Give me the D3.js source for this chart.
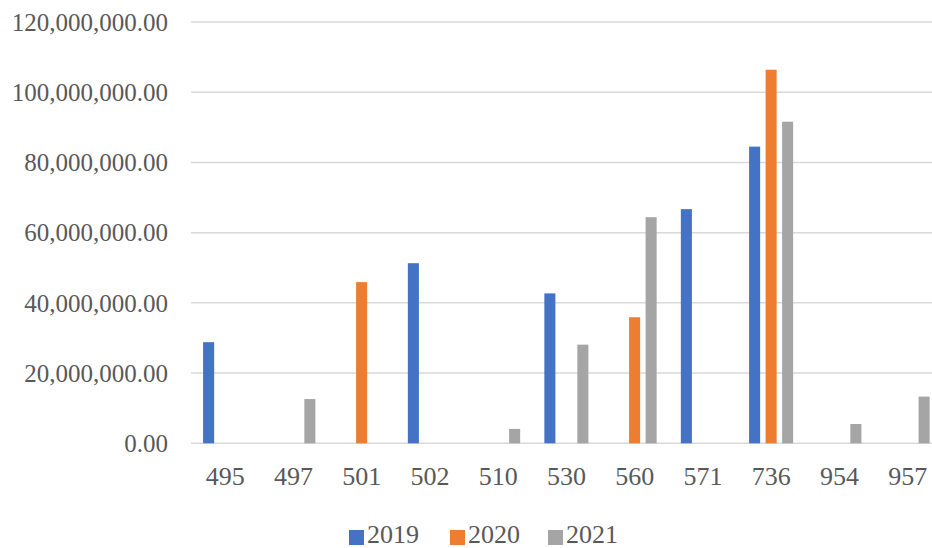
<!DOCTYPE html>
<html>
<head>
<meta charset="utf-8">
<script src="https://cdn.jsdelivr.net/npm/d3@7"></script>
<style>
  body { margin: 0; background: #fff; }
  svg { display: block; font-family: "Liberation Serif", "DejaVu Serif", serif; }
</style>
</head>
<body>
<svg></svg>
<script>
var WIDTH = 932;
var HEIGHT = 548;

// data
var categories = ["495", "497", "501", "502", "510", "530", "560", "571", "736", "954", "957"];
var years = ["2019", "2020", "2021"];
var values2019 = [28.8e6, 0, 0, 51.3e6, 0, 42.7e6, 0, 66.7e6, 84.5e6, 0, 0];
var values2020 = [0, 0, 45.9e6, 0, 0, 0, 35.9e6, 0, 106.4e6, 0, 0];
var values2021 = [0, 12.6e6, 0, 0, 4.1e6, 28.1e6, 64.4e6, 0, 91.6e6, 5.5e6, 13.3e6];
var yTicks = [0, 20e6, 40e6, 60e6, 80e6, 100e6, 120e6];
var colors = ["#4472C4", "#ED7D31", "#A5A5A5"];

var series = [values2019, values2020, values2021];

var svg = d3.select("svg")
    .attr("width", WIDTH)
    .attr("height", HEIGHT);

var left = 191, bandW = 68.25;
var x0 = d3.scaleBand()
    .domain(categories)
    .range([left, left + bandW * categories.length])
    .paddingInner(0)
    .paddingOuter(0);

var step = 16.5;
var x1 = d3.scaleBand()
    .domain(years)
    .range([bandW / 2 - 1.5 * step, bandW / 2 + 1.5 * step])
    .paddingInner(0.33)
    .paddingOuter(0.165);

var y = d3.scaleLinear()
    .domain([0, 120e6])
    .range([443.3, 22]);

var fmt = d3.format(",.2f");

// gridlines
svg.append("g")
    .selectAll("line")
    .data(yTicks)
    .enter()
    .append("line")
    .attr("x1", x0.range()[0])
    .attr("x2", x0.range()[1])
    .attr("y1", function(d) { return y(d); })
    .attr("y2", function(d) { return y(d); })
    .attr("stroke", "#d9d9d9")
    .attr("stroke-width", 1.5);

// y tick labels
svg.append("g")
    .selectAll("text")
    .data(yTicks)
    .enter()
    .append("text")
    .attr("x", 168)
    .attr("y", function(d) { return y(d); })
    .attr("dy", "0.35em")
    .attr("text-anchor", "end")
    .attr("font-size", 25)
    .attr("fill", "#595959")
    .text(function(d) { return fmt(d); });

// bars
var groups = svg.append("g")
    .selectAll("g")
    .data(categories)
    .enter()
    .append("g")
    .attr("transform", function(d) { return "translate(" + x0(d) + ",0)"; });

groups.selectAll("rect")
    .data(function(d, i) {
        return years.map(function(yr, j) { return {year: yr, value: series[j][i], color: colors[j]}; });
    })
    .enter()
    .filter(function(d) { return d.value > 0; })
    .append("rect")
    .attr("x", function(d) { return x1(d.year); })
    .attr("width", x1.bandwidth())
    .attr("y", function(d) { return y(d.value); })
    .attr("height", function(d) { return y(0) - y(d.value); })
    .attr("fill", function(d) { return d.color; });

// x labels
svg.append("g")
    .selectAll("text")
    .data(categories)
    .enter()
    .append("text")
    .attr("x", function(d) { return x0(d) + bandW / 2; })
    .attr("y", 485)
    .attr("text-anchor", "middle")
    .attr("font-size", 26)
    .attr("fill", "#595959")
    .text(function(d) { return d; });

// legend
var legendX = [349, 450, 548];
var legend = svg.append("g")
    .selectAll("g")
    .data(years)
    .enter()
    .append("g")
    .attr("transform", function(d, i) { return "translate(" + legendX[i] + ",0)"; });

legend.append("rect")
    .attr("x", 0)
    .attr("y", 530)
    .attr("width", 15)
    .attr("height", 15)
    .attr("fill", function(d, i) { return colors[i]; });

legend.append("text")
    .attr("x", 18)
    .attr("y", 543)
    .attr("font-size", 26)
    .attr("fill", "#595959")
    .text(function(d) { return d; });
</script>
</body>
</html>
